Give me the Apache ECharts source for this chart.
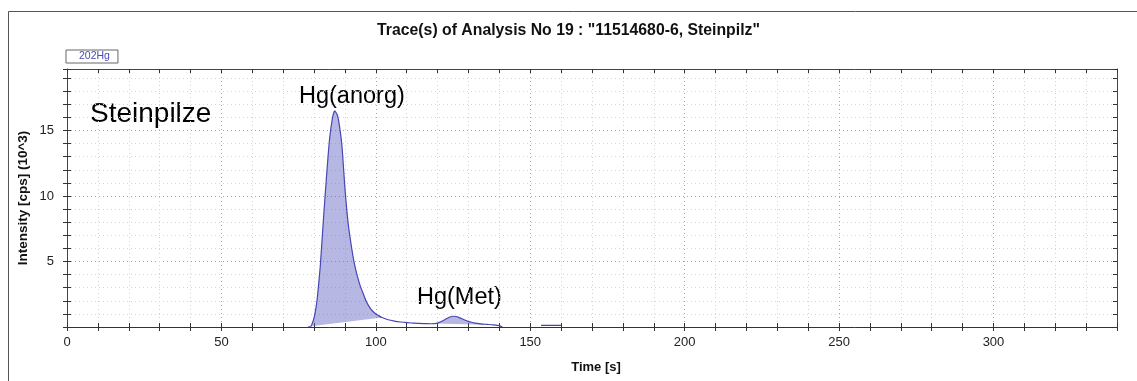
<!DOCTYPE html>
<html>
<head>
<meta charset="utf-8">
<script src="https://cdn.jsdelivr.net/npm/echarts@6/dist/echarts.min.js"></script>
<style>
html,body{margin:0;padding:0;background:#fff;}
#c{width:1137px;height:381px;}
</style>
</head>
<body>
<div id="c"></div>
<script>
// Time [s], Intensity [cps] (10^3)
var traceTime = [78,79,80,80.5,81,82,83,84,85,86,86.7,87.5,88,89,90,91,92,93,94,95,96,97,98,99,100,101,102,104,106,108,110,112,114,116,118,119,120,121,122,123,124,125,126,127,128,129,130,131,132,134,136,138,140,141];
var traceIntensity = [0,0.06,0.7,1.3,2.1,4.6,8.1,11.4,14.3,16.0,16.5,16.2,15.7,13.9,10.6,8.0,6.3,4.9,3.9,3.1,2.5,1.9,1.5,1.2,1.0,0.85,0.72,0.55,0.45,0.38,0.33,0.3,0.27,0.26,0.25,0.26,0.3,0.4,0.52,0.65,0.76,0.82,0.8,0.72,0.62,0.52,0.43,0.36,0.3,0.24,0.2,0.16,0.1,0];
var blipTime = [153.5,160];
var blipIntensity = [0.12,0.12];
var peakStart = [79,119];
var peakEnd = [102,138];
var seriesName = '202Hg';
var chartTitle = 'Trace(s) of Analysis No 19 : "11514680-6, Steinpilz"';
var sampleLabel = 'Steinpilze';
var peakLabels = ['Hg(anorg)', 'Hg(Met)'];
var xName = 'Time [s]';
var yName = 'Intensity [cps] (10^3)';

var traceData = traceTime.map(function(t,i){return [t, traceIntensity[i]];});
var blipData = blipTime.map(function(t,i){return [t, blipIntensity[i]];});
var peakData = peakStart.map(function(s,i){return [s, peakEnd[i], 0];});

var FONT = '"Liberation Sans", Arial, sans-serif';
var XMAX = 340, YMAX = 19.7;
var gridMajor = '#a8a8a8', gridMinor = '#d4d4d4';

function xAx(extra){
  var base = {type:'value', min:0, max:XMAX, interval:10, gridIndex:0,
    axisLabel:{show:false}, splitLine:{show:false}, axisLine:{show:false},
    axisTick:{show:true, inside:true, length:4, lineStyle:{color:'#333'}}};
  return Object.assign(base, extra);
}
function yAx(extra){
  var base = {type:'value', min:0, max:YMAX, interval:1, gridIndex:0,
    axisLabel:{show:false}, splitLine:{show:false}, axisLine:{show:false},
    axisTick:{show:true, inside:true, length:4, lineStyle:{color:'#333'}}};
  return Object.assign(base, extra);
}

var chart = echarts.init(document.getElementById('c'), null, {renderer:'canvas'});
chart.setOption({
  backgroundColor:'#fff',
  animation:false,
  textStyle:{fontFamily:FONT},
  title:{text:chartTitle, left:'center', top:18,
    textStyle:{fontSize:15.8, fontWeight:'bold', color:'#111', fontFamily:FONT}},
  legend:{show:true, left:66, top:50, data:[seriesName], itemWidth:0, itemHeight:0, itemGap:0,
    borderColor:'#666', borderWidth:1, padding:[1,8,1,7], borderRadius:0,
    textStyle:{fontSize:10.5, color:'#4a4ab8', fontFamily:FONT, padding:[0,0,0,0]}, selectedMode:false},
  grid:{left:67, right:20, top:69, bottom:54, containLabel:false},
  xAxis:[
    xAx({position:'bottom', axisLine:{show:true, onZero:false, lineStyle:{color:'#333', width:1}},
      axisTick:{show:true, inside:false, length:4, lineStyle:{color:'#333'}},
      axisLabel:{show:true, fontSize:13, color:'#222', margin:9, fontFamily:FONT,
        formatter:function(v){return (v%50===0)?String(v):'';}},
      splitLine:{show:true, lineStyle:{type:[1,3], width:1, color:[gridMajor,gridMinor,gridMinor,gridMinor,gridMinor]}},
      name:xName, nameLocation:'middle', nameGap:34,
      nameTextStyle:{fontSize:13, fontWeight:'bold', color:'#111', fontFamily:FONT, padding:[0,0,0,8]}}),
    xAx({position:'bottom'}),
    xAx({position:'top', axisLine:{show:true, onZero:false, lineStyle:{color:'#444', width:1}}})
  ],
  yAxis:[
    yAx({position:'left', axisLine:{show:true, onZero:false, lineStyle:{color:'#444', width:1}},
      axisTick:{show:true, inside:false, length:4, lineStyle:{color:'#333'}},
      axisLabel:{show:true, fontSize:13, color:'#222', margin:13, fontFamily:FONT,
        formatter:function(v){return (v>0 && v%5===0)?String(v):'';}},
      splitLine:{show:true, lineStyle:{type:[1,3], width:1, color:[gridMajor,gridMinor,gridMinor,gridMinor,gridMinor]}},
      name:yName, nameLocation:'middle', nameGap:37, nameRotate:90, nameMoveOverlap:false,
      nameTextStyle:{fontSize:13.5, fontWeight:'bold', color:'#111', fontFamily:FONT}}),
    yAx({position:'left'}),
    yAx({position:'right', axisLine:{show:true, onZero:false, lineStyle:{color:'#444', width:1}}})
  ],
  series:[
    {type:'custom', name:'fill', coordinateSystem:'cartesian2d', xAxisIndex:0, yAxisIndex:0, z:1,
      encode:{x:[0,1], y:2}, silent:true,
      data:peakData,
      renderItem:function(params, api){
        var s = api.value(0), e = api.value(1);
        var pts = [];
        for (var i=0;i<traceData.length;i++){
          var p = traceData[i];
          if (p[0] >= s && p[0] <= e) pts.push(api.coord(p));
        }
        return {type:'polygon', shape:{points:pts},
          style:{fill:'rgba(95,95,195,0.45)', stroke:null}};
      }},
    {type:'line', name:seriesName, xAxisIndex:0, yAxisIndex:0, z:3,
      data:traceData, showSymbol:false, symbol:'none', smooth:0.2,
      lineStyle:{color:'#4646b4', width:1.2}, itemStyle:{color:'#4646b4'}},
    {type:'line', name:'blip', xAxisIndex:0, yAxisIndex:0, z:3,
      data:blipData, showSymbol:false, symbol:'none',
      lineStyle:{color:'#4646b4', width:1.2}}
  ],
  graphic:[
    {type:'rect', left:6, top:9, silent:true, z:-10,
      shape:{x:0.5, y:0.5, width:1200, height:400},
      style:{fill:null, stroke:'#555', lineWidth:1}},
    {type:'text', left:90, top:100, silent:true,
      style:{text:sampleLabel, font:'28px '+FONT, fill:'#000'}},
    {type:'text', left:299, top:85, silent:true,
      style:{text:peakLabels[0], font:'23.5px '+FONT, fill:'#000'}},
    {type:'text', left:417, top:286, silent:true,
      style:{text:peakLabels[1], font:'23.5px '+FONT, fill:'#000'}}
  ]
});
</script>
</body>
</html>
